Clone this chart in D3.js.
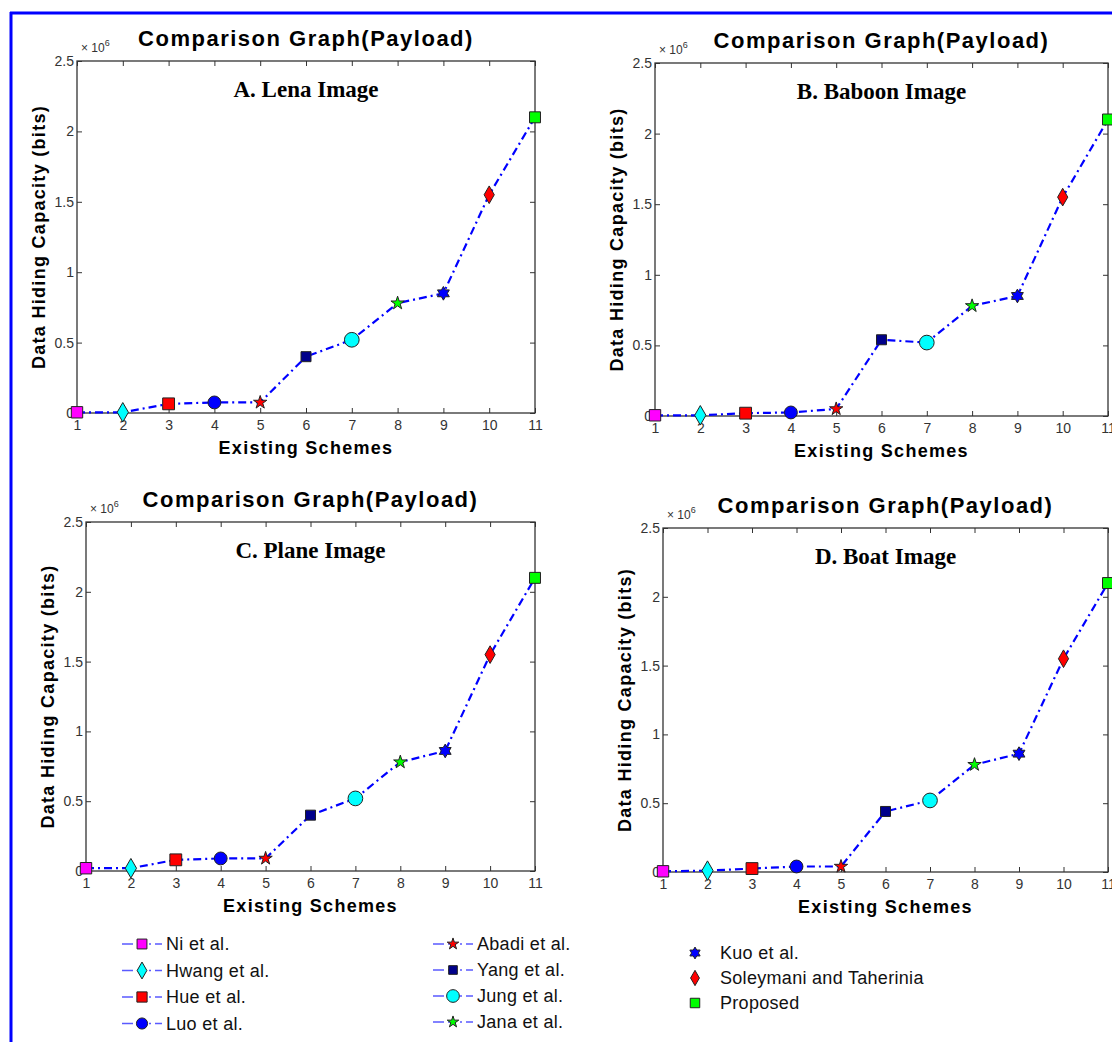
<!DOCTYPE html>
<html>
<head>
<meta charset="utf-8">
<script src="https://cdn.jsdelivr.net/npm/d3@7"></script>
<style>
  body { margin: 0; background: #fff; }
  text { font-family: "Liberation Sans", Arial, sans-serif; }
</style>
</head>
<body>
<svg id="chart" width="1112" height="1042"></svg>
<script>
// scheme names, in plot order (x = 1..11)
var schemes = ["Ni et al.", "Hwang et al.", "Hue et al.", "Luo et al.", "Abadi et al.",
    "Yang et al.", "Jung et al.", "Jana et al.", "Kuo et al.", "Soleymani and Taherinia", "Proposed"];
var schemeIds = [1, 2, 3, 4, 5, 6, 7, 8, 9, 10, 11];

// payload in units of 10^6 bits
var lenaValues   = [0.005, 0.005, 0.065, 0.075, 0.075, 0.40, 0.52, 0.78, 0.85, 1.55, 2.10];
var baboonValues = [0.005, 0.005, 0.020, 0.025, 0.050, 0.54, 0.52, 0.78, 0.85, 1.55, 2.10];
var planeValues  = [0.020, 0.020, 0.080, 0.090, 0.090, 0.40, 0.52, 0.78, 0.86, 1.55, 2.10];
var boatValues   = [0.005, 0.010, 0.025, 0.040, 0.040, 0.44, 0.52, 0.78, 0.86, 1.55, 2.10];

var xTicks = [1, 2, 3, 4, 5, 6, 7, 8, 9, 10, 11];
var yTicks = [0, 0.5, 1, 1.5, 2, 2.5];

// marker styles for each scheme
var markerColors = ["#ff00ff", "#00ffff", "#ff0000", "#0000ff", "#ff0000", "#00008b",
    "#00ffff", "#00ff00", "#0000ff", "#ff0000", "#00ff00"];
var markerShapes = ["square", "diamond", "square", "circle", "star", "square",
    "circle", "star", "hexagram", "diamond", "square"];
var markerSizes = [130, 110, 140, 130, 55, 100, 170, 55, 75, 90, 120];

// six point star (matlab 'h')
var symbolHexagram = {
    draw: function (context, size) {
        var r = Math.sqrt(size / 1.6), ri = r / Math.sqrt(3);
        for (var i = 0; i < 12; i++) {
            var a = -Math.PI / 2 + i * Math.PI / 6, rr = (i % 2) ? ri : r;
            if (i === 0) context.moveTo(rr * Math.cos(a), rr * Math.sin(a));
            else context.lineTo(rr * Math.cos(a), rr * Math.sin(a));
        }
        context.closePath();
    }
};
var shapeTypes = {
    square: d3.symbolSquare, diamond: d3.symbolDiamond, circle: d3.symbolCircle,
    star: d3.symbolStar, hexagram: symbolHexagram
};

var panels = [
    { sub: "A. Lena Image",   values: lenaValues,   left: 77,  right: 535,  top: 61,  bottom: 413 },
    { sub: "B. Baboon Image", values: baboonValues, left: 655, right: 1108, top: 63,  bottom: 416 },
    { sub: "C. Plane Image",  values: planeValues,  left: 86,  right: 535,  top: 522, bottom: 871 },
    { sub: "D. Boat Image",   values: boatValues,   left: 663, right: 1108, top: 528, bottom: 872 }
];

var svg = d3.select("#chart");

// blue frame around the figure
svg.append("line").attr("x1", 11).attr("x2", 11).attr("y1", 12).attr("y2", 1042)
    .attr("stroke", "#0000ff").attr("stroke-width", 3);
svg.append("line").attr("x1", 10).attr("x2", 1112).attr("y1", 13).attr("y2", 13)
    .attr("stroke", "#0000ff").attr("stroke-width", 3);

function marker(i, k) {
    return d3.symbol().type(shapeTypes[markerShapes[i]]).size(markerSizes[i] * (k || 1))();
}

panels.forEach(function (p) {
    var x = d3.scaleLinear().domain([1, 11]).range([p.left, p.right]);
    var y = d3.scaleLinear().domain([0, 2.5]).range([p.bottom, p.top]);
    var cx = (p.left + p.right) / 2;
    var g = svg.append("g");

    // box
    g.append("rect")
        .attr("x", p.left).attr("y", p.top)
        .attr("width", p.right - p.left).attr("height", p.bottom - p.top)
        .attr("fill", "none").attr("stroke", "#333").attr("stroke-width", 1.3);

    // axes, ticks pointing inward like matlab
    g.append("g").attr("transform", "translate(0," + p.bottom + ")")
        .call(d3.axisBottom(x).tickValues(xTicks).tickSizeInner(-5).tickSizeOuter(0).tickPadding(7));
    g.append("g").attr("transform", "translate(0," + p.top + ")")
        .call(d3.axisTop(x).tickValues(xTicks).tickSizeInner(-5).tickSizeOuter(0).tickFormat(""));
    g.append("g").attr("transform", "translate(" + p.left + ",0)")
        .call(d3.axisLeft(y).tickValues(yTicks).tickSizeInner(-5).tickSizeOuter(0).tickPadding(3)
            .tickFormat(function (d) { return d3.format("")(d); }));
    g.append("g").attr("transform", "translate(" + p.right + ",0)")
        .call(d3.axisRight(y).tickValues(yTicks).tickSizeInner(-5).tickSizeOuter(0).tickFormat(""));
    g.selectAll(".domain").remove();
    g.selectAll(".tick line").attr("stroke", "#333");
    g.selectAll(".tick text").attr("font-size", 14).attr("fill", "#333")
        .attr("font-family", "Liberation Sans, Arial, sans-serif");

    // exponent label
    var ex = g.append("text").attr("x", p.left + 4).attr("y", p.top - 9)
        .attr("font-size", 12).attr("fill", "#333");
    ex.append("tspan").text("\u00d7 10");
    ex.append("tspan").attr("dy", -6).attr("font-size", 9).text("6");

    // titles
    g.append("text").attr("x", cx).attr("y", p.top - 15)
        .attr("text-anchor", "middle").attr("font-size", 22).attr("font-weight", "bold")
        .attr("letter-spacing", 1.5)
        .text("Comparison Graph(Payload)");
    g.append("text").attr("x", cx).attr("y", p.top + 36)
        .attr("text-anchor", "middle").attr("font-size", 23).attr("font-weight", "bold")
        .style("font-family", "Liberation Serif, Times New Roman, serif")
        .text(p.sub);
    g.append("text").attr("x", cx).attr("y", p.bottom + 41)
        .attr("text-anchor", "middle").attr("font-size", 18).attr("font-weight", "bold")
        .attr("letter-spacing", 1.3)
        .text("Existing Schemes");
    g.append("text")
        .attr("transform", "translate(" + (p.left - 32) + "," + ((p.top + p.bottom) / 2) + ") rotate(-90)")
        .attr("text-anchor", "middle").attr("font-size", 18).attr("font-weight", "bold")
        .attr("letter-spacing", 1.3)
        .text("Data Hiding Capacity (bits)");

    // dash-dot line
    var line = d3.line()
        .x(function (d, i) { return x(schemeIds[i]); })
        .y(function (d) { return y(d); });
    g.append("path").datum(p.values)
        .attr("d", line).attr("fill", "none")
        .attr("stroke", "#0000ff").attr("stroke-width", 2.2)
        .attr("stroke-dasharray", "8,4,2,4");

    // markers
    g.selectAll(".mk").data(p.values).enter().append("path")
        .attr("class", "mk")
        .attr("transform", function (d, i) { return "translate(" + x(schemeIds[i]) + "," + y(d) + ")"; })
        .attr("d", function (d, i) { return marker(i); })
        .attr("fill", function (d, i) { return markerColors[i]; })
        .attr("stroke", "#222").attr("stroke-width", 1);
});

// legend, three columns
var legendCols = [
    { items: [0, 1, 2, 3], x: 122, y0: 944, dy: 26.5, line: true },
    { items: [4, 5, 6, 7], x: 433, y0: 944, dy: 26, line: true },
    { items: [8, 9, 10], x: 675, y0: 953, dy: 25, line: false }
];
legendCols.forEach(function (c) {
    c.items.forEach(function (idx, r) {
        var gy = c.y0 + r * c.dy;
        var lg = svg.append("g");
        if (c.line) {
            lg.append("line").attr("x1", c.x).attr("x2", c.x + 40).attr("y1", gy).attr("y2", gy)
                .attr("stroke", "#5a5aff").attr("stroke-width", 1.5)
                .attr("stroke-dasharray", "11,4,2,4,2,4,2,4");
        }
        lg.append("path")
            .attr("transform", "translate(" + (c.x + 20) + "," + gy + ")")
            .attr("d", marker(idx, 0.75))
            .attr("fill", markerColors[idx]).attr("stroke", "#222").attr("stroke-width", 1);
        lg.append("text").attr("x", c.x + (c.line ? 44 : 45)).attr("y", gy + 6)
            .attr("font-size", 18).attr("fill", "#111").attr("letter-spacing", 0.3)
            .text(schemes[idx]);
    });
});
</script>
</body>
</html>
